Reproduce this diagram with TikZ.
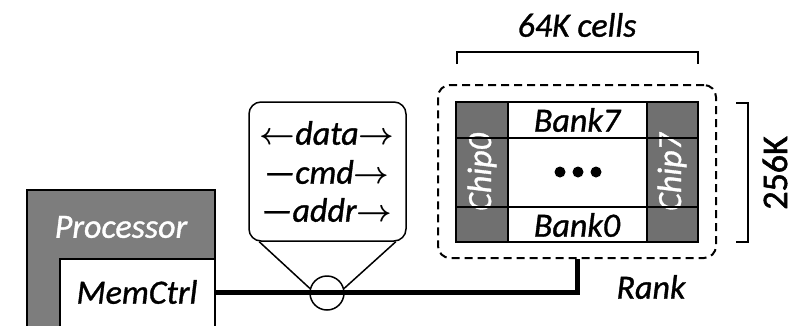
\RequirePackage{fix-cm}
\documentclass[tikz,border=0pt]{standalone}
\usepackage{fontspec}
\setmainfont{Carlito}
\definecolor{procgray}{RGB}{125,125,125}
\definecolor{chipgray}{RGB}{112,112,112}
\tikzset{
  lbl/.style={font=\fontsize{34}{40}\selectfont\itshape\addfontfeatures{FakeBold=1}, inner sep=0pt},
  bus/.style={line width=5pt},
  thin line/.style={line width=1.5pt},
}
\newcommand{\la}{{\fontsize{31}{32}\selectfont\boldmath$\leftarrow$}}
\newcommand{\ra}{{\fontsize{31}{32}\selectfont\boldmath$\rightarrow$}}
\begin{document}
\begin{tikzpicture}[x=1pt, y=-1pt, thick]
  \useasboundingbox (0,0) rectangle (810,325);
  % processor and its memory controller
  \filldraw[procgray, draw=black, line width=2pt] (27,340) -- (27,190) -- (215,190) -- (215,340);
  \filldraw[white, draw=black, line width=2pt] (60,340) -- (60,259) -- (215,259) -- (215,340);
  \node[lbl, white] (proc) at (121,227) {Processor};
  \node[lbl] (memctrl) at (137,292) {MemCtrl};
  \coordinate (busstart) at (215,292);
  % rank with chips and banks
  \node[draw, line width=2pt, dash pattern=on 8pt off 5pt, rounded corners=12pt,
        minimum width=278pt, minimum height=173pt] (rank) at (577,171.5) {};
  \fill[chipgray] (456,102) rectangle (508,242);
  \fill[chipgray] (647,102) rectangle (698,242);
  \node[lbl, white, rotate=90] (chip0) at (482,172) {Chip0};
  \node[lbl, white, rotate=90] (chip7) at (672,172) {Chip7};
  \draw[line width=2.5pt] (456,102) rectangle (698,242);
  \draw[line width=2pt] (508,102) -- (508,242);
  \draw[line width=2pt] (647,102) -- (647,242);
  \draw[line width=2pt] (456,138) -- (698,138);
  \draw[line width=2pt] (456,207) -- (698,207);
  \node[lbl] (bank7) at (577,120) {Bank7};
  \node[lbl] (bank0) at (577,225) {Bank0};
  \foreach \x in {560,578,596}
    \fill (\x,172) circle (5.5pt); % dots
  \node[lbl] (ranklbl) at (651,287) {Rank};
  % size brackets
  \draw[thin line] (457,64) -- (457,52) -- (698,52) -- (698,64);
  \node[lbl] (cells) at (577,25) {64K cells};
  \draw[thin line] (736,103) -- (748,103) -- (748,242) -- (736,242);
  \node[lbl, font=\fontsize{36}{40}\selectfont\addfontfeatures{FakeBold=1.5}, rotate=90] (rows) at (775,173) {256K};
  % bus with its signal callout
  \node[draw, circle, thin line, minimum size=34pt, inner sep=0pt] (tap) at (327,293) {};
  \draw[bus] (busstart) -| (rank.south);
  \node[draw, thin line, rounded corners=12pt, minimum width=157pt, minimum height=139pt] (callout) at (327.5,171.5) {};
  \draw[thin line] ([xshift=11pt]callout.south west) -- (tap.165);
  \draw[thin line] ([xshift=-11pt]callout.south east) -- (tap.15);
  \node[lbl] (data) at (327,133) {\la data\ra};
  \node[lbl] (cmd) at (327,172) {---cmd\ra};
  \node[lbl] (addr) at (327,210) {---addr\ra};
\end{tikzpicture}
\end{document}
